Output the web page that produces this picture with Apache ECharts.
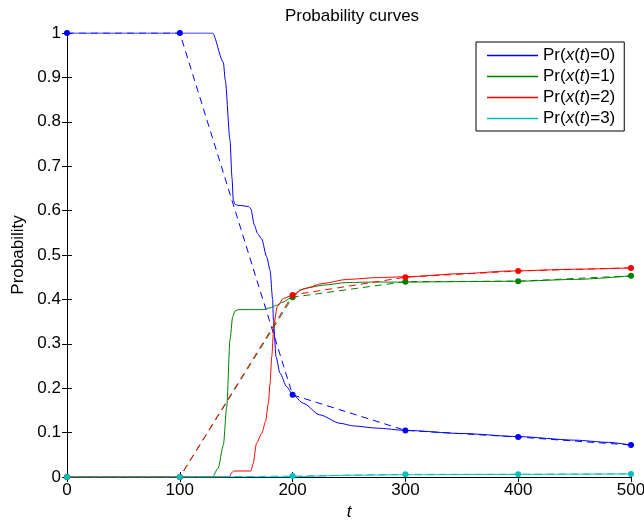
<!DOCTYPE html>
<html>
<head>
<meta charset="utf-8">
<script src="https://cdn.jsdelivr.net/npm/echarts@6/dist/echarts.min.js"></script>
<style>
  html, body { margin: 0; padding: 0; background: #fff; }
  #chart { width: 644px; height: 524px; }
</style>
</head>
<body>
<div id="chart"></div>
<script>
// Sample times for the coarse (dashed, marked) estimates
const sampleT = [0, 100, 200, 300, 400, 500];
const coarse0 = [1, 1, 0.185, 0.105, 0.09, 0.072];
const coarse1 = [0, 0, 0.405, 0.44, 0.441, 0.453];
const coarse2 = [0, 0, 0.41, 0.45, 0.464, 0.471];
const coarse3 = [0, 0, 0.002, 0.006, 0.006, 0.007];

// Fine curves, as [t, probability]
const fine0 = [[0,1],[129,1],[138.6,0.934],[140.3,0.894],[144.5,0.759],[146.3,0.673],[147.4,0.624],
  [149,0.614],[151,0.612],[156,0.611],[161,0.609],[163,0.604],[166,0.568],[169,0.548],[172.6,0.536],
  [177,0.496],[180,0.466],[182.3,0.40],[183,0.354],[185.3,0.271],[188.8,0.234],[194.8,0.203],
  [200,0.186],[209.5,0.166],[224,0.14],[242,0.121],[254,0.115],[275,0.110],[300,0.105],[350,0.098],
  [400,0.091],[450,0.083],[480,0.078],[500,0.072]];
const fine1 = [[0,0],[129,0],[134,0.02],[138.6,0.072],[141.6,0.158],[144.5,0.309],[146.9,0.361],
  [149,0.374],[152,0.377],[165,0.377],[174,0.377],[180,0.381],[186,0.387],[190.3,0.393],[200,0.405],
  [206.6,0.421],[215,0.427],[227,0.432],[248,0.438],[270,0.439],[300,0.439],[350,0.440],[400,0.441],
  [450,0.445],[500,0.453]];
const fine2 = [[0,0],[144,0],[146,0.01],[148,0.0135],[163,0.0135],[165,0.03],[168,0.076],[172.6,0.098],
  [176,0.125],[178.5,0.166],[180,0.21],[181.5,0.271],[183.5,0.346],[186.4,0.384],[191.8,0.402],
  [200,0.41],[210,0.424],[227,0.436],[248,0.445],[275,0.449],[300,0.451],[350,0.458],[393,0.464],
  [450,0.468],[500,0.471]];
const fine3 = [[0,0],[200,0],[220,0.002],[250,0.004],[300,0.005],[400,0.006],[500,0.007]];

const xTicks = { min: 0, max: 500, interval: 100 };
const yTicks = { min: 0, max: 1, interval: 0.1 };

const colors = ['#0000ff', '#008000', '#ff0000', '#00bfbf'];
const names = ['Pr({i|x}({i|t})=0)', 'Pr({i|x}({i|t})=1)', 'Pr({i|x}({i|t})=2)', 'Pr({i|x}({i|t})=3)'];
const fine = [fine0, fine1, fine2, fine3];
const coarse = [coarse0, coarse1, coarse2, coarse3];

const font = 'Liberation Sans, Arial, sans-serif';
const fs = 17;

const series = [];
fine.forEach((d, i) => {
  series.push({
    name: names[i], type: 'line', data: d, symbol: 'none', smooth: 0.25, smoothMonotone: 'x',
    lineStyle: { color: colors[i], width: 1 }, itemStyle: { color: colors[i] },
    z: 2, animation: false
  });
});
coarse.forEach((v, i) => {
  series.push({
    type: 'line', data: sampleT.map((t, k) => [t, v[k]]),
    symbol: 'circle', symbolSize: 6, showSymbol: true,
    lineStyle: { color: colors[i], width: 1, type: [7, 5] },
    itemStyle: { color: colors[i] }, z: 3, animation: false
  });
});

const chart = echarts.init(document.getElementById('chart'));
chart.setOption({
  backgroundColor: '#fff',
  animation: false,
  title: {
    text: 'Probability curves', left: 347, top: 3, textAlign: 'center',
    textStyle: { fontFamily: font, fontSize: fs, fontWeight: 'normal', color: '#000' }
  },
  grid: { left: 67, right: 13, top: 33, bottom: 47, containLabel: false, outerBoundsMode: 'none' },
  legend: {
    orient: 'vertical', left: 476, top: 42,
    data: names.map((n, i) => ({ name: n, icon: 'rect', itemStyle: { color: colors[i] } })),
    itemWidth: 51, itemHeight: 1.6, itemGap: 4,
    padding: [5, 9, 4, 11],
    backgroundColor: '#fff', borderColor: '#000', borderWidth: 1, borderRadius: 0,
    textStyle: {
      fontFamily: font, fontSize: fs, color: '#000',
      rich: { i: { fontFamily: font, fontSize: fs, fontStyle: 'italic', color: '#000' } }
    }
  },
  xAxis: [
    {
      type: 'value', min: xTicks.min, max: xTicks.max, interval: xTicks.interval,
      name: 't', nameLocation: 'middle', nameGap: 27,
      nameTextStyle: { fontFamily: font, fontSize: fs, fontStyle: 'italic', color: '#000' },
      axisLine: { lineStyle: { color: '#000' } },
      axisTick: { inside: true, length: 5, lineStyle: { color: '#000' } },
      axisLabel: { fontFamily: font, fontSize: fs, color: '#000', margin: 5 },
      splitLine: { show: false }
    },
    {
      type: 'value', position: 'top', min: xTicks.min, max: xTicks.max, interval: xTicks.interval,
      axisLine: { lineStyle: { color: '#000' } },
      axisTick: { inside: true, length: 5, lineStyle: { color: '#000' } },
      axisLabel: { show: false }, splitLine: { show: false }
    }
  ],
  yAxis: [
    {
      type: 'value', min: yTicks.min, max: yTicks.max, interval: yTicks.interval,
      name: 'Probability', nameLocation: 'middle', nameGap: 38,
      nameTextStyle: { fontFamily: font, fontSize: fs, color: '#000' },
      axisLine: { show: true, lineStyle: { color: '#000' } },
      axisTick: { show: true, inside: true, length: 5, lineStyle: { color: '#000' } },
      axisLabel: { fontFamily: font, fontSize: fs, color: '#000', margin: 6 },
      splitLine: { show: false }
    },
    {
      type: 'value', position: 'right', min: yTicks.min, max: yTicks.max, interval: yTicks.interval,
      axisLine: { show: true, lineStyle: { color: '#000' } },
      axisTick: { show: true, inside: true, length: 5, lineStyle: { color: '#000' } },
      axisLabel: { show: false }, splitLine: { show: false }
    }
  ],
  series: series
});
</script>
</body>
</html>
